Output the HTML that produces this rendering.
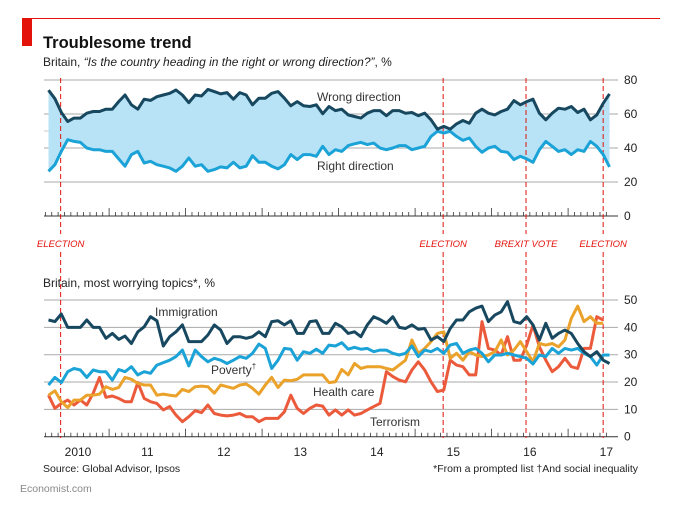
<!DOCTYPE html>
<html><head><meta charset="utf-8">
<style>
body{margin:0;background:#fff;width:675px;height:510px;overflow:hidden;font-family:"Liberation Sans",sans-serif;}
svg text{font-family:"Liberation Sans",sans-serif;}
</style></head>
<body>
<svg id="c" width="675" height="510" viewBox="0 0 675 510" xmlns="http://www.w3.org/2000/svg">
<line x1="22" y1="18.5" x2="660" y2="18.5" stroke="#e3120b" stroke-width="1"/>
<rect x="22" y="19" width="10" height="27" fill="#e3120b"/>
<text x="43" y="48" font-size="16.5" font-weight="bold" fill="#111">Troublesome trend</text>
<text x="43" y="66" font-size="12" fill="#222">Britain, <tspan font-style="italic">“Is the country heading in the right or wrong direction?”</tspan>, %</text>
<text x="43" y="287" font-size="12" fill="#222">Britain, most worrying topics*, %</text>
<text x="43" y="472" font-size="10.5" fill="#222">Source: Global Advisor, Ipsos</text>
<text x="638" y="472" font-size="10.5" fill="#222" text-anchor="end">*From a prompted list   †And social inequality</text>
<text x="20" y="492" font-size="10.5" fill="#888">Economist.com</text>
<g id="g"></g>
</svg>
<script>
const t0 = 2.5;
const wrongDir = [74,69,61,55.6,57.6,57.6,60.5,61.5,61.5,62.8,62.8,67.3,71.2,65.4,62.8,68.7,68,70.2,71.2,72.2,74.1,71.2,66.7,71.2,70.6,74.5,73.2,71.8,72.6,68.7,72.6,71.2,65.4,69.3,69.3,72.2,73.2,69.3,64.8,67.3,64.8,64.4,65.4,60.1,64.4,62,62.8,59.5,58.5,57.6,
60.5,62,62,59,62,62,60.5,60.9,59,60.5,56.6,51.1,52.7,51.1,54.2,56.2,54.6,60.5,62.8,60.5,59.5,61.5,62.8,67.9,65.4,67.3,68.7,60.5,56.6,60.5,63.4,62.8,64.4,60.9,62.8,56.6,59.5,66.3,71.8];
const rightDir = [26.3,30.2,38,44.9,43.9,43.3,40,39,39,38,38,33.6,29.3,36.1,38,31.2,32.2,30.2,29.3,28.3,26.3,29.3,34.1,29.3,30.2,26.3,27.3,28.9,28.3,31.6,28.3,29.3,35.5,31.6,31.6,29.3,27.7,30.2,36.1,33.2,36.1,36.1,35.1,41,36.1,39,38,41.4,42.5,43.3,
42,42.9,40,39,40,41.4,41.4,39,40,41,46.8,49.8,48.8,49.8,46.8,44.5,45.9,41,37.5,40,41,38,37.5,33.2,35.1,33.6,31.6,39,43.9,41,38,39,36.1,39,38,43.9,41,36.1,28.9];
const immigration = [42.7,42.1,44.9,40,40,40,42.7,40,40,36,37.8,35.6,36.8,34.1,38.4,40.2,43.9,42.4,33.2,36.6,38.4,40.9,34.8,34.8,34.8,37.2,40.9,39,34.1,36.6,36.6,36,36.6,38.4,36.6,42.1,42.4,40.9,42.4,37.8,37.8,42.1,42.4,37.8,37.8,41.5,40.2,37.8,38.4,36.6,
40.9,43.9,42.9,41.5,43.9,40,39.6,40.9,39.3,39.6,35.4,36.6,34.8,39.6,42.7,42.7,45.7,47,47.8,42.1,44.5,45.7,49.4,42.1,41.5,43.9,40.9,35.4,41.5,36,37.8,39,37.8,34.1,31.1,29.3,31.1,28,26.8];
const poverty = [18.9,21.7,19.8,23.8,25,24.4,21.7,24.4,23.8,23.8,20.7,24.6,23.8,25.6,22.6,23.8,23.2,26.2,27.1,28,29.3,31.7,25.9,31.7,29.3,27.4,28.7,28,26.8,28,29.3,28.7,30.5,33.9,32.3,25,28,32.3,32,28,31.1,30.5,32,30.5,33.5,33.2,34.4,32,32.7,32,
32.3,31.1,31.7,31.7,30.5,29.9,30.5,33.2,29.3,31.7,31.1,32.3,30.5,33.5,34.1,30.5,31.7,32.3,30.5,27.4,29.9,29.9,30.5,29.9,29.3,28.7,26.6,29.9,29.3,32.3,30.5,32.3,31.7,32.3,30.5,29.3,26.2,29.9,29.9];
const healthCare = [15.2,16.8,12.8,10.7,13.4,13.4,15.2,15.2,15.6,18.3,17.3,18,21.7,21,19.5,18.9,18.9,15.2,15.6,15.2,14.9,17.3,16.5,18.3,18.5,18.3,15.9,18.9,18.3,17.7,18.9,19.3,17.7,15.6,18.9,21.7,18,20.7,20.5,21,22.6,22.6,22.6,22.6,19.8,20.1,24.6,22.6,26.8,
25,25.6,25.6,25.6,25,24.4,26.2,28,35.4,30.5,32.3,34.8,37.8,38.4,28.7,30.5,28,31.1,29.9,29.3,29.9,31.1,35.4,29.9,31.7,34.8,31.1,27.4,34.1,33.5,34.1,32.9,35.4,43.3,47.8,42.1,43.9,41.5,41.5];
const terrorism = [15.2,10.4,12.2,13.4,11.6,13.4,11.6,15.9,21.7,14.4,14.9,14,12.8,12.8,19.8,14,12.8,12.2,9.8,11,7.9,5.5,7.3,9.5,8.8,11.6,8.5,7.9,7.6,7.9,8.5,7.3,7.3,5.5,6.7,6.7,6.7,9.1,15.2,10.4,8.5,10.4,11.6,11.2,7.9,9.8,7.9,9.8,7.9,
8.5,9.8,11,12.2,23.8,22,20.7,20.1,24.4,27.4,24.4,20.1,16.5,17.1,28,26.2,25.6,22.6,22.6,42.1,32.3,31.7,29.9,36.6,28,28,33.5,40.9,32.9,28,23.8,25.6,28.7,25.6,25,32.3,32.3,43.9,42.7];
const topTicks = [0,20,40,60,80];
const botTicks = [0,10,20,30,40,50];
const yearLabels = ["2010","11","12","13","14","15","16","17"];
const events = ["ELECTION","ELECTION","BREXIT VOTE","ELECTION"];
const eventMonths = [4.4,64.4,77.4,89.5];

const NS="http://www.w3.org/2000/svg";
const g=document.getElementById('g');
function mk(tag,attrs){const e=document.createElementNS(NS,tag);for(const k in attrs)e.setAttribute(k,attrs[k]);g.appendChild(e);return e;}
const X0=32.6, MW=6.375, L=44, R=612;
function xm(t){return X0+MW*t;}
function yTop(v){return 216-v*1.7;}
function yBot(v){return 436.7-v*2.733;}
function ptsFor(arr,yf){return arr.map((v,i)=>xm(t0+i).toFixed(1)+','+yf(v).toFixed(1));}

// gridlines
topTicks.forEach(v=>{
  const y=yTop(v);
  const l=mk('line',{x1:L,x2:618,y1:y,y2:y,stroke:v===0?'#333':'#aaa','stroke-width':v===0?1:1});
  
  
  const t=mk('text',{x:624,y:y+4,'font-size':12,fill:'#222'});t.textContent=v;
  
  
});
{const y=yTop(50);const l=mk('line',{x1:L,x2:612,y1:y,y2:y,stroke:'#c8c8c8','stroke-dasharray':'6,4'});

}
botTicks.forEach(v=>{
  const y=yBot(v);
  const l=mk('line',{x1:L,x2:618,y1:y,y2:y,stroke:v===0?'#333':'#aaa','stroke-width':1});
  
  
  const t=mk('text',{x:624,y:y+4,'font-size':12,fill:'#222'});t.textContent=v;
  
  
});
// month ticks
[yTop(0),yBot(0)].forEach(y0=>{
  for(let m=2;m<=91;m++){
    const x=xm(m); if(x<L||x>R) continue;
    const major=m%12===0;
    const l=mk('line',{x1:x,x2:x,y1:y0,y2:y0-(major?8:4),stroke:'#333','stroke-width':0.8});
    
    
  }
});
yearLabels.forEach((s,i)=>{
  let x=xm(12*i+6); if(i===0) x=78;
  const t=mk('text',{x:x,y:456,'font-size':12,fill:'#222','text-anchor':'middle'});t.textContent=s;
  
  
});
// fill between
{
  const a=ptsFor(wrongDir,yTop), b=ptsFor(rightDir,yTop).reverse();
  const p=mk('polygon',{points:a.concat(b).join(' '),fill:'#b8e2f6'});
  
  
}
// event lines
events.forEach((s,i)=>{
  const x=xm(eventMonths[i]);
  const l1=mk('line',{x1:x,x2:x,y1:78,y2:234,stroke:'#e3120b','stroke-dasharray':'5,3','stroke-width':1});
  
  
  const l2=mk('line',{x1:x,x2:x,y1:252,y2:438,stroke:'#e3120b','stroke-dasharray':'5,3','stroke-width':1});
  
  
  const t=mk('text',{x:x,y:247,'font-size':9.5,fill:'#e3120b','font-style':'italic','text-anchor':'middle'});t.textContent=s;
  
  
});
function line(arr,yf,col,name){
  const p=mk('polyline',{points:ptsFor(arr,yf).join(' '),fill:'none',stroke:col,'stroke-width':3,'stroke-linejoin':'round'});
  
  
}
line(rightDir,yTop,'#1ba3d8','right-direction-line');
line(wrongDir,yTop,'#17485f','wrong-direction-line');
line(terrorism,yBot,'#ec5a3c','terrorism-line');
line(healthCare,yBot,'#eaa22b','health-care-line');
line(poverty,yBot,'#1ba3d8','poverty-line');
line(immigration,yBot,'#17485f','immigration-line');
function lab(s,x,y,name){const t=mk('text',{x:x,y:y,'font-size':12,fill:'#333'});t.innerHTML=s;
  
  }
lab('Wrong direction',317,101,'wrong-direction-label');
lab('Right direction',317,170,'right-direction-label');
lab('Immigration',155,316,'immigration-label');
lab('Poverty<tspan font-size="8" dy="-5">†</tspan>',211,374,'poverty-label');
lab('Health care',313,396,'health-care-label');
lab('Terrorism',370,426,'terrorism-label');
</script>
</body></html>
